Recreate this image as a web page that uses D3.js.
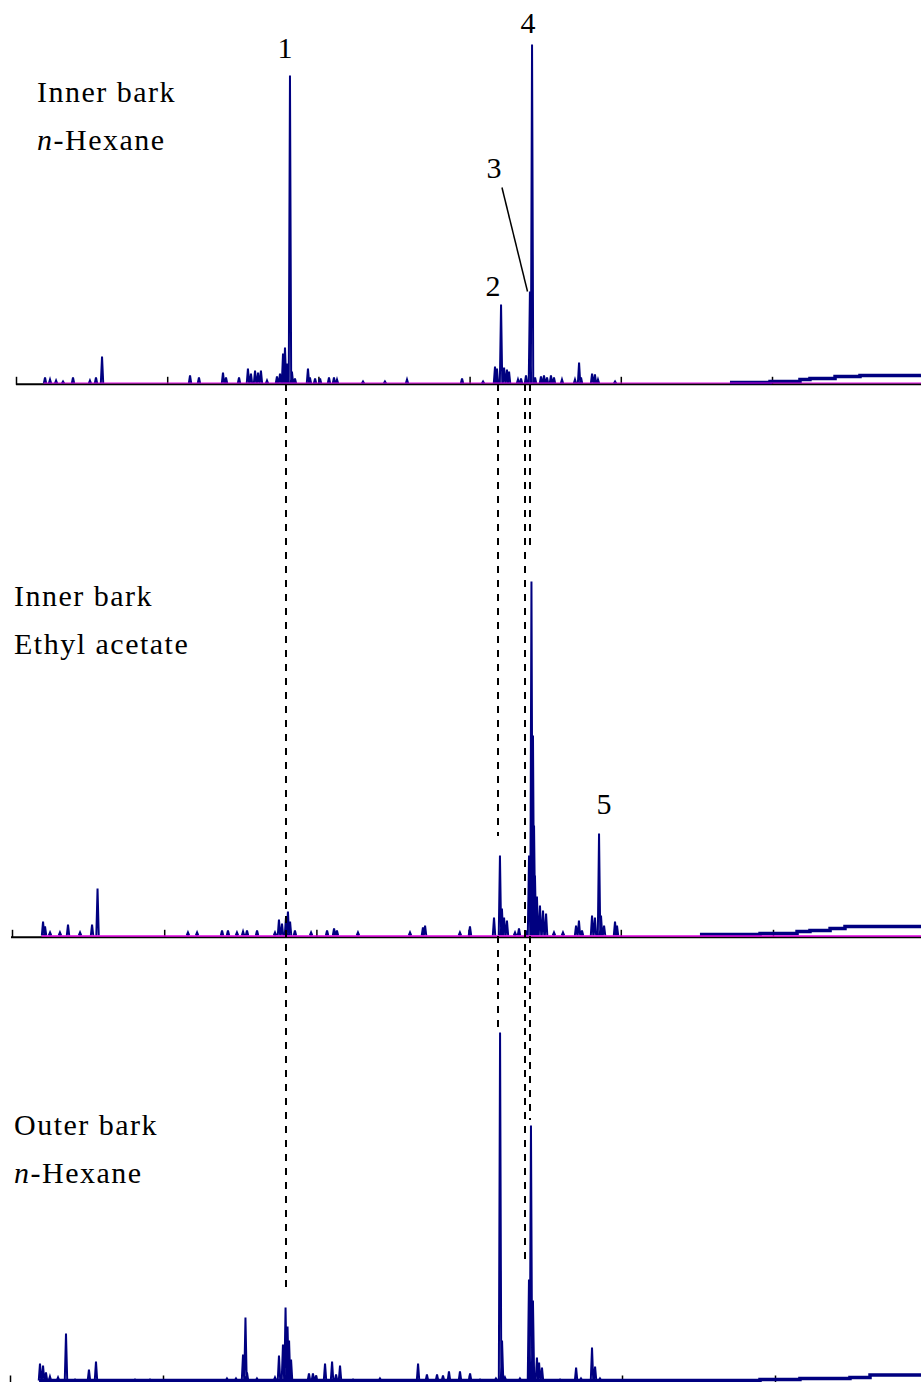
<!DOCTYPE html>
<html>
<head>
<meta charset="utf-8">
<title>Bark extract chromatograms</title>
<script src="https://d3js.org/d3.v7.min.js"></script>
<style>
  body { margin: 0; background: #fff; }
  svg { display: block; }
  text { font-family: "Liberation Serif", "DejaVu Serif", serif; }
  .panelName { font-size: 30px; letter-spacing: 1.5px; fill: #000; }
  .peakNo { font-size: 30px; fill: #000; text-anchor: middle; }
  .trace { fill: none; stroke: #000080; stroke-width: 2; stroke-linejoin: miter; }
  .drift { fill: none; stroke: #000080; stroke-width: 3.5; }
  .baseLine { stroke: #e000e0; }
  .axis path { stroke: #000; stroke-width: 2; }
  .axis line { stroke: #000; stroke-width: 1.5; }
  .marker { stroke: #000; stroke-width: 2; stroke-dasharray: 7,7; shape-rendering: crispEdges; }
  .leader { stroke: #000; stroke-width: 1.5; }
</style>
</head>
<body>
<svg id="chart" width="921" height="1382"></svg>
<script>
// retention time (min), intensity
innerHexPeaks = [
  [1.92,6],[2.25,4],[2.65,3],[3.11,2],[3.77,6],[4.89,3],[5.29,6],[5.69,27],
  [11.51,8],[12.10,6],[13.69,11],[13.89,6],[14.75,6],[15.34,15],[15.54,10],[15.81,13],[16.01,11],[16.20,13],[16.60,3],
  [17.26,7],[17.46,10],[17.66,30],[17.79,36],[17.92,20],[18.12,308],[18.25,12],[18.45,5],
  [19.31,15],[19.44,6],[19.78,5],[20.11,5],[20.70,6],[21.03,6],[21.23,4],[22.95,2],[24.40,2],[25.86,4],
  [29.50,5],[30.89,2],[31.68,17],[31.81,15],[32.08,79],[32.28,16],[32.47,14],[32.61,12],
  [33.20,4],[33.40,5],[33.73,8],[33.99,92],[34.13,339],[34.33,6],
  [34.72,7],[34.92,8],[35.12,6],[35.38,8],[35.58,6],[36.11,4],[36.97,4],[37.24,21],[37.37,6],
  [38.10,10],[38.29,9],[38.49,4],[39.62,2]
];
innerHexDrift = [[47.22,1],[49.87,2],[51.85,4],[52.51,5],[54.17,7],[55.82,8],[59.85,8.5]];

innerEtacPeaks = [
  [2.04,14],[2.17,9],[2.50,3],[3.15,3],[3.68,11],[4.47,3],[5.26,11],[5.62,47],
  [11.56,3],[12.16,3],[13.80,5],[14.19,5],[14.78,3],[15.18,4],[15.44,5],[16.10,5],[17.28,3],
  [17.54,16],[17.74,12],[18.00,18],[18.13,24],[18.27,14],[18.59,5],[19.65,3],
  [20.70,5],[21.16,7],[21.35,5],[22.73,3],[26.15,3],[27.00,8],[27.14,10],
  [29.43,3],[30.09,9],[31.67,18],[32.06,80],[32.19,27],[32.33,18],[32.52,15],
  [33.05,3],[33.31,7],[33.77,5],[33.97,80],[34.13,354],[34.23,200],[34.30,110],[34.36,60],
  [34.49,39],[34.69,30],[34.89,25],[35.09,22],[35.61,3],[36.20,3],
  [37.06,10],[37.25,15],[37.45,5],[38.11,20],[38.30,18],[38.57,102],[38.70,20],[38.90,10],
  [39.62,14],[39.75,10]
];
innerEtacDrift = [[45.20,1],[49.15,2],[51.58,4],[52.43,5],[53.75,7],[54.73,9],[59.72,10]];

outerHexPeaks = [
  [1.96,17],[2.16,15],[2.35,8],[2.61,4],[3.14,3],[3.66,47],[4.25,1],[5.16,11],[5.62,19],
  [8.17,1],[9.15,1],[14.18,2],[14.77,2],[15.23,26],[15.39,63],[15.49,8],[16.14,2],
  [17.32,3],[17.58,25],[17.84,36],[18.01,73],[18.14,54],[18.24,40],[18.37,21],
  [19.54,7],[19.80,7],[20.00,5],[20.59,17],[21.05,19],[21.31,6],[21.57,15],[22.42,1],[24.18,2],
  [26.67,17],[27.25,6],[27.91,6],[28.30,5],[28.69,9],[29.41,9],[30.07,7],[30.72,1],
  [31.76,2],[32.03,348],[32.16,40],[32.35,3],[33.33,2],[33.92,101],[34.05,255],[34.18,80],
  [34.44,23],[34.58,18],[34.77,13],[35.95,1],[37.00,13],[37.32,2],[38.04,33],[38.24,14],[38.56,2]
];
outerHexDrift = [[1.9,0],[45.10,0],[49.02,1],[51.63,2],[54.90,3],[56.21,5.5],[59.54,6]];

timeTicks = [0, 10, 20, 30, 40, 50, 60];

// peak numbers: text, panel, time, intensity
peakLabels = [["1",0,17.79,326],["4",0,33.86,351],["3",0,31.61,206],["2",0,31.55,88],["5",1,38.90,122]];
leader3 = [[32.14,196],[33.83,92]];

// dashed guides: time (top scale), from panel, from intensity, to panel, to intensity
markerLines = [
  [17.86,0,0,2,91],
  [31.88,0,0,1,100],
  [31.88,1,0,2,353],
  [33.66,0,0,2,116],
  [33.99,0,0,1,390],
  [33.99,1,0,2,261]
];

panelNames = [["Inner bark","n-Hexane"],["Inner bark","Ethyl acetate"],["Outer bark","n-Hexane"]];

// layout of the three panels
layout = [
  { x0: 16, k: 15.12, zero: 383.5, axisY: 384.3, axisStart: 16, magenta: 383, textX: 37, textY: 102, peaks: innerHexPeaks, drift: innerHexDrift },
  { x0: 12, k: 15.22, zero: 935.5, axisY: 937.3, axisStart: 11, magenta: 936, textX: 14, textY: 606, peaks: innerEtacPeaks, drift: innerEtacDrift },
  { x0: 10, k: 15.3, zero: 1380.5, axisY: 1383, axisStart: 10, magenta: null, textX: 14, textY: 1135, peaks: outerHexPeaks, drift: outerHexDrift }
];

chart = d3.select("#chart");
halfWidth = 0.08;

layout.forEach(function(p, i) {
  p.x = d3.scaleLinear().domain([0, 60]).range([p.x0, p.x0 + 60 * p.k]);
  p.y = d3.scaleLinear().domain([0, 350]).range([p.zero, p.zero - 350]);
  var g = chart.append("g").attr("class", "panel");

  // axis line with upward ticks
  g.append("line")
    .attr("x1", p.axisStart).attr("x2", 921)
    .attr("y1", p.axisY).attr("y2", p.axisY)
    .attr("stroke", "#000").attr("stroke-width", 2);
  var axis = d3.axisTop(p.x).tickValues(timeTicks).tickSize(8).tickSizeOuter(0).tickFormat("");
  g.append("g").attr("class", "axis")
    .attr("transform", "translate(0," + (p.axisY + 0.5) + ")")
    .call(axis)
    .select(".domain").remove();

  // chromatogram
  var line = d3.line()
    .x(function(d) { return p.x(d[0]); })
    .y(function(d) { return p.y(d[1]); });
  var d = p.peaks.map(function(pk) {
    return line([[pk[0] - halfWidth, 0], [pk[0], pk[1]], [pk[0] + halfWidth, 0]]);
  }).join("");
  g.append("path").attr("class", "trace").attr("d", d);
  g.append("path").attr("class", "drift").attr("d", line.curve(d3.curveStepAfter)(p.drift));

  if (p.magenta !== null) {
    g.append("line").attr("class", "baseLine")
      .attr("x1", p.x(p.peaks[0][0] - 0.1)).attr("x2", 921)
      .attr("y1", p.magenta).attr("y2", p.magenta)
      .attr("stroke-width", i === 0 ? 1 : 1.5);
  }

  // panel name
  var t = g.append("text").attr("class", "panelName")
    .attr("x", p.textX).attr("y", p.textY);
  t.append("tspan").text(panelNames[i][0]);
  var t2 = g.append("text").attr("class", "panelName")
    .attr("x", p.textX).attr("y", p.textY + 48);
  if (panelNames[i][1] === "n-Hexane") {
    t2.append("tspan").attr("font-style", "italic").text("n");
    t2.append("tspan").text("-Hexane");
  } else {
    t2.append("tspan").text(panelNames[i][1]);
  }
});

// dashed guide lines (drawn with the top panel's time scale)
top0 = layout[0];
chart.append("g").selectAll("line")
  .data(markerLines)
  .join("line")
    .attr("class", "marker")
    .attr("x1", function(d) { return top0.x(d[0]); })
    .attr("x2", function(d) { return top0.x(d[0]); })
    .attr("y1", function(d) { return layout[d[1]].y(d[2]); })
    .attr("y2", function(d) { return layout[d[3]].y(d[4]); });

// leader for peak 3
chart.append("line").attr("class", "leader")
  .attr("x1", top0.x(leader3[0][0])).attr("y1", top0.y(leader3[0][1]))
  .attr("x2", top0.x(leader3[1][0])).attr("y2", top0.y(leader3[1][1]));

// peak numbers
chart.append("g").selectAll("text")
  .data(peakLabels)
  .join("text")
    .attr("class", "peakNo")
    .attr("x", function(d) { return layout[d[1]].x(d[2]); })
    .attr("y", function(d) { return layout[d[1]].y(d[3]); })
    .text(function(d) { return d[0]; });
</script>
</body>
</html>
